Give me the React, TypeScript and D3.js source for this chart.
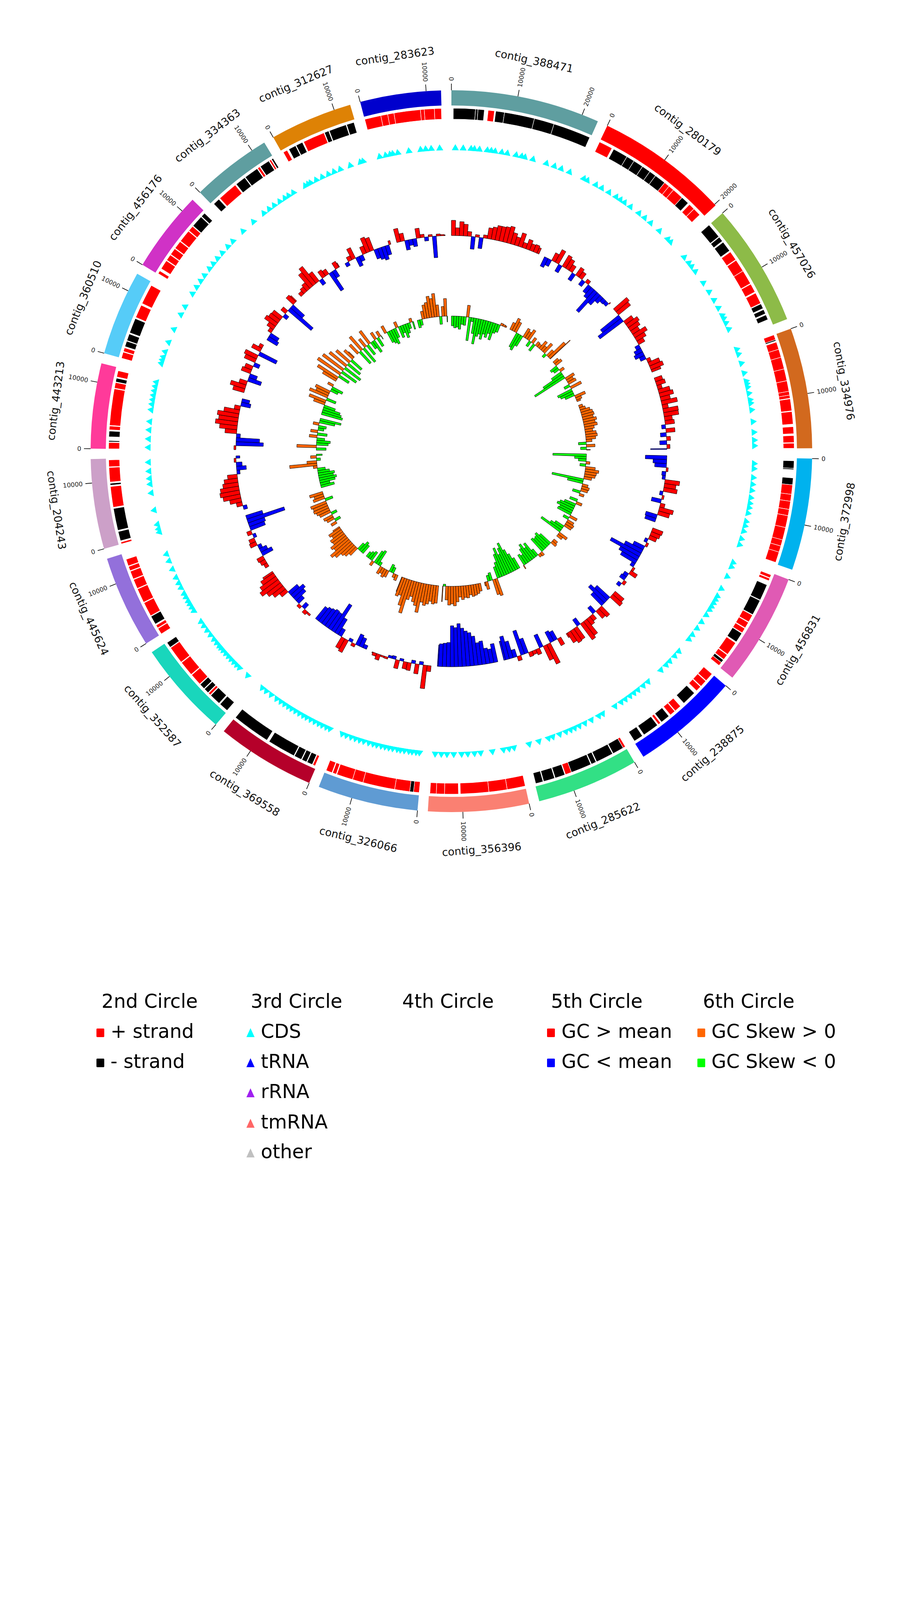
import React from "react";
import * as d3 from "d3";

// ---------------- DATA ----------------
const contigNames = [
  "contig_388471", "contig_280179", "contig_457026", "contig_334976", "contig_372998",
  "contig_456831", "contig_238875", "contig_285622", "contig_356396", "contig_326066",
  "contig_369558", "contig_352587", "contig_445624", "contig_204243", "contig_443213",
  "contig_360510", "contig_456176", "contig_334363", "contig_312627", "contig_283623",
];
const contigLengths = [
  22540, 20200, 18630, 18220, 16930, 16970, 16320, 15430, 15240, 15210,
  14960, 14480, 13980, 13590, 12890, 12890, 12290, 12190, 12510, 12230,
];
const contigColors = [
  "#5F9EA0", "#FF0000", "#8DBB48", "#D2691E", "#00B2EE", "#E05AB4", "#0000FF", "#32E085", "#FA8072", "#5F9BD3",
  "#B5002A", "#19D6BC", "#9370DB", "#CCA0C8", "#FF3A9A", "#56CCF8", "#D032C6", "#5F9EA0", "#DE8205", "#0000CD",
];
const tickValues = [0, 10000, 20000];
const binSize = 1000;

// 2nd circle: [start kb, end kb, strand]
const strandFeatures = [
  [[0.3,3.8,-1],[3.8,4.2,-1],[4.2,5.2,-1],[5.8,6.8,1],[7.0,8.4,-1],[8.4,13.2,-1],[13.2,16.4,-1],[16.4,22.4,-1]],
  [[0,2.2,1],[2.5,4.9,-1],[4.9,6.2,-1],[6.2,7.8,-1],[7.8,9.2,-1],[9.2,10.3,-1],[10.3,12.1,-1],[12.1,13.0,1],[13.0,13.9,1],[13.9,15.7,1],[15.7,17.0,-1],[17.3,18.3,1],[18.3,19.6,1]],
  [[0,2.4,-1],[2.5,3.3,-1],[3.5,5.2,-1],[5.4,6.9,1],[7.0,9.0,1],[9.0,11.3,1],[11.4,12.8,1],[13.0,14.8,1],[14.9,15.7,-1],[15.9,16.6,-1],[16.8,17.6,-1]],
  [[0,0.8,1],[0.8,1.0,-1],[1.2,2.4,1],[2.4,3.7,1],[3.7,5.6,1],[5.6,7.5,1],[7.5,9.2,1],[9.2,9.8,1],[9.8,10.3,1],[10.4,12.3,1],[12.4,14.4,1],[14.8,15.9,1],[16.2,17.3,1],[17.4,18.2,1]],
  [[0.4,1.6,-1],[1.6,1.8,-1],[3.1,4.2,-1],[4.2,5.7,1],[5.7,6.8,1],[6.8,8.1,1],[8.1,9.1,1],[9.1,11.0,1],[11.0,13.0,1],[13.0,14.0,1],[14.0,15.0,1],[15.0,16.7,1]],
  [[0.3,0.8,1],[0.9,1.3,1],[2.0,4.6,-1],[4.7,7.2,-1],[7.3,8.5,1],[8.6,9.6,1],[9.7,10.5,1],[10.6,12.2,-1],[12.4,14.6,1],[14.7,15.6,1],[15.7,16.2,-1],[16.2,16.8,1]],
  [[0,1.4,1],[1.5,2.6,1],[2.7,3.6,1],[4.1,6.4,-1],[7.1,8.2,1],[8.3,9.2,1],[9.5,11.0,-1],[11.2,11.6,1],[11.8,14.4,-1],[14.7,16.2,-1]],
  [[0,0.4,1],[0.4,2.2,-1],[2.3,5.1,-1],[5.2,6.0,-1],[6.1,9.4,-1],[9.4,10.4,1],[10.5,12.1,-1],[12.2,14.0,-1],[14.1,15.3,-1]],
  [[0,2.9,1],[2.9,5.8,1],[5.8,10.3,1],[10.6,12.8,1],[12.8,14.1,1],[14.1,15.1,1]],
  [[0,0.9,1],[0.9,1.5,-1],[1.5,3.9,1],[3.9,9.0,1],[9.0,10.7,1],[10.7,13.3,1],[13.4,14.0,1],[14.1,15.1,1]],
  [[0.2,0.6,1],[0.7,1.6,-1],[1.7,2.5,-1],[2.6,3.8,-1],[3.9,8.4,-1],[8.8,14.9,-1]],
  [[0.1,1.6,-1],[1.8,3.6,-1],[3.7,4.1,1],[4.2,5.0,-1],[5.1,6.0,-1],[6.1,8.0,1],[8.1,10.5,1],[10.6,13.4,1],[13.5,14.4,-1]],
  [[0,1.0,1],[1.1,1.6,1],[1.8,3.2,-1],[3.3,5.6,1],[5.7,8.0,1],[8.1,9.6,1],[9.7,11.0,1],[11.1,11.8,1],[11.9,13.0,1]],
  [[0,0.3,1],[0.5,2.0,-1],[2.2,5.7,-1],[5.9,9.2,1],[9.4,9.7,-1],[9.9,12.2,1],[12.3,13.4,1]],
  [[0,1.0,1],[1.1,1.3,-1],[1.9,2.8,-1],[3.0,3.6,1],[3.7,9.5,1],[9.6,10.5,1],[10.6,11.2,-1],[11.4,12.4,1]],
  [[0,1.0,1],[1.1,1.7,1],[1.9,2.8,-1],[2.9,4.0,-1],[4.2,6.6,-1],[6.8,8.9,1],[9.2,12.4,1]],
  [[0.1,0.6,1],[1.0,2.5,1],[2.6,3.6,1],[3.7,4.8,1],[4.9,6.2,1],[6.3,8.3,1],[8.4,9.3,1],[9.4,11.3,-1],[11.4,12.1,-1]],
  [[0.3,1.4,-1],[1.6,4.8,1],[5.0,6.7,-1],[6.8,9.1,-1],[9.2,9.6,1],[9.7,11.3,-1],[11.4,11.7,1],[11.8,12.1,-1]],
  [[0.2,0.9,1],[1.2,2.4,-1],[2.5,3.6,-1],[3.8,7.3,1],[7.4,8.1,-1],[8.2,11.0,-1],[11.1,12.3,-1]],
  [[0,2.6,1],[2.6,3.7,1],[3.7,4.7,1],[4.7,8.9,1],[8.9,9.5,1],[9.5,11.1,1],[11.1,12.2,1]],
];

// 3rd circle: CDS positions (kb)
const cdsPositions = [
  [0.7,2.1,3.5,4.1,5.0,6.4,7.1,7.8,9.0,10.0,11.6,12.6,13.2,14.7,17.2,18.7,20.0,21.6],
  [0.3,1.0,2.7,3.9,5.4,6.9,7.8,8.7,10.0,11.9,13.2,14.6,16.7,18.8,19.5],
  [1.4,2.7,3.5,4.6,7.1,9.0,10.7,12.3,13.8,14.4,15.3,16.5],
  [0.2,1.1,2.8,4.6,6.1,6.6,7.2,8.3,9.5,10.1,11.3,13.4,15.3,16.7,17.7],
  [1.1,2.0,3.6,4.8,5.9,7.2,8.2,9.0,10.0,11.5,12.3,13.3,14.7,15.8],
  [0.7,1.5,3.4,5.8,7.3,8.0,8.7,9.4,10.1,11.2,12.7,14.1,15.5,16.5],
  [0.8,1.9,3.2,4.1,5.4,8.5,9.6,10.8,11.7,12.6,13.6,14.5,15.8],
  [0.5,1.3,2.8,4.1,5.2,6.1,6.9,7.8,9.0,10.3,11.1,12.9,14.7],
  [0.5,1.4,2.4,4.4,6.5,7.6,8.8,9.9,11.3,12.5,13.5,14.6],
  [0.6,1.2,1.9,2.5,3.3,4.0,4.6,5.4,6.1,6.8,7.5,8.3,9.0,9.8,10.7,11.5,12.3,13.1,14.0,14.8],
  [0.4,1.1,1.9,2.6,3.4,4.2,5.0,5.7,6.5,7.3,8.1,8.8,9.6,10.4,11.3,12.5,13.6,14.5],
  [1.4,3.4,4.1,4.8,5.5,6.2,6.9,7.6,8.2,8.7,9.4,10.2,11.2,12.2,13.2,14.1],
  [0.4,1.1,1.8,2.4,3.2,3.9,5.1,6.0,7.1,8.7,10.3,11.6],
  [0.2,0.8,1.6,4.2,7.3,8.9,9.9,11.2,12.8],
  [0.3,1.8,3.4,4.9,7.0,8.0,8.8,9.6,10.4,11.2,12.0],
  [1.0,1.6,2.2,3.2,5.0,7.5,10.4,12.0],
  [0.2,1.6,2.9,4.1,5.6,6.7,7.9,9.2,10.7,12.0],
  [0.7,3.2,5.6,6.8,7.9,9.1,10.2,11.0,12.0],
  [0.7,1.3,1.8,2.9,4.1,5.3,6.4,7.6,9.5,11.4,11.9],
  [0.9,2.0,2.8,3.3,4.2,6.2,8.3,9.2,10.2,11.7],
];

// 5th circle: GC content deviation from mean per 1 kb window (x0.1 %)
const gcDeviation = [
  [39,20,36,30,12,-32,6,-28,8,28,32,38,38,40,44,30,22,36,14,26,18,20,16],
  [-26,-18,22,37,-20,33,28,18,-20,24,18,-15,10,-22,-30,-70,-35,-20,-12,-10,5],
  [45,40,-60,-75,25,35,30,22,38,28,18,-12,-20,-25,-15,10,30,35,25],
  [20,24,12,30,36,25,41,15,39,38,20,24,-10,23,-15,10,-18,8,-42],
  [-55,-35,-30,5,-10,-8,38,30,35,-8,5,-25,12,37,30,-30,-28],
  [28,25,20,-8,6,-30,-50,-86,-55,-45,-10,6,20,-12,-15,8,-10],
  [30,34,-45,-58,-40,30,25,-20,15,20,45,51,-20,35,37,30,12],
  [20,-25,-30,56,40,-35,15,10,12,-40,-65,12,-20,-45,-61,-50],
  [-48,-36,-40,-60,-57,-75,-85,-90,-98,-110,-100,-105,-62,-60,-58,-55],
  [15,60,-8,25,-8,20,18,-6,22,-8,-6,5,4,15,8,3],
  [-10,-25,-30,8,-8,35,30,-20,-45,-82,-50,-52,-48,-45,-40],
  [5,10,-15,8,-20,-35,-42,-30,20,35,45,58,50,40,30],
  [10,15,18,-30,-20,-10,18,15,-8,12,-40,-44,-100,-44],
  [-10,15,30,45,51,48,40,35,25,-8,-25,-15,5,-10],
  [5,-70,-60,-10,30,45,57,50,55,40,15,-25,-20],
  [30,40,20,-35,-20,25,20,-15,30,35,-50,25,10],
  [-30,-25,10,20,35,30,28,-12,15,-78,-40,25,20],
  [10,15,20,45,56,30,-15,20,15,-54,-20,18,12],
  [-10,12,30,-25,-15,20,40,35,-25,-30,-35,-25,10],
  [35,20,-25,-15,-20,25,8,-10,5,-55,5,3,2],
];

// 6th circle: GC skew per 1 kb window (x0.001)
const gcSkew = [
  [-25,-30,-28,-33,-20,-22,30,-60,-10,-40,-66,-45,-38,-50,-35,-42,-30,-45,-25,-20,6,5,4],
  [20,35,28,-40,-45,-30,25,20,30,-15,15,-20,12,10,25,15,30,-10,20,55,70],
  [15,20,-20,-15,12,-30,-60,-90,25,18,22,-15,30,-40,-35,-25,28,15,10],
  [10,15,25,30,32,28,35,30,34,25,20,28,30,25,15,-20,22,-15,10],
  [-86,-30,-20,10,-15,25,35,30,28,20,-82,-40,15,20,18,-20,12],
  [-20,15,-30,-40,-45,-35,-38,20,-15,18,22,20,-25,-35,-60,25,15],
  [12,15,-35,-45,-40,-38,-42,10,8,-20,-45,-35,-50,-40,-25,-30,10],
  [-30,-45,-60,-82,-70,-55,-75,-60,-40,-30,45,40,-20,-15,20,10],
  [20,25,28,30,25,32,30,35,28,40,50,45,48,35,-5,40],
  [45,48,42,50,55,48,76,60,52,40,50,88,70,45,50,40],
  [15,10,-15,-20,18,22,15,20,-10,-40,-35,12,-25,-20,-15],
  [-25,-30,-20,25,35,40,55,63,45,50,38,40,30,35,20],
  [15,-15,20,25,-15,30,35,40,38,42,-20,30,25,35],
  [-35,-25,-40,-45,-38,-42,-30,-20,10,70,25,-10,15,-15],
  [-25,50,-30,-35,-20,20,-25,18,-15,-20,15,-40,-55],
  [-55,-50,-45,-30,30,45,-25,50,35,40,-20,-30,15],
  [40,60,-30,70,-45,65,-50,55,-40,45,-35,30,20],
  [30,-40,45,-45,25,-30,40,-20,-35,20,-25,15,-10],
  [20,-30,-35,-40,-25,15,-30,-20,-35,-25,-15,10,-20],
  [-20,-15,20,35,40,55,48,60,30,-20,25,45,-15],
];

const legendHeaders = ["2nd Circle", "3rd Circle", "4th Circle", "5th Circle", "6th Circle"];
const strandLegend = [["+ strand", "#FF0000"], ["- strand", "#000000"]];
const featureLegend = [["CDS", "#00FFFF"], ["tRNA", "#0000FF"], ["rRNA", "#A020F0"], ["tmRNA", "#FF6666"], ["other", "#C0C0C0"]];
const gcLegend = [["GC > mean", "#FF0000"], ["GC < mean", "#0000FF"]];
const skewLegend = [["GC Skew > 0", "#FF6600"], ["GC Skew < 0", "#00FF00"]];

// ---------------- LAYOUT ----------------
const W = 2310;
const H = 4620;
const CX = 1156;
const CY = 1155;
const GAP_DEG = 1.65;
const FONT = "'DejaVu Sans', sans-serif";

const R_OUT1 = 924, R_IN1 = 885;
const R_OUT2 = 878, R_IN2 = 850;
const R_CDS = 778;
const R_TICK_END = 941;
const R_TICK_LABEL = 948;
const R_LABEL = 1022;

const toRad = (d: number) => (d * Math.PI) / 180;

export default function App() {
  const totalLen = d3.sum(contigLengths);
  const degPerBp = (360 - GAP_DEG * contigLengths.length) / totalLen;
  let acc = 0;
  const sectors = contigLengths.map((len) => {
    const start = acc;
    const end = acc + len * degPerBp;
    acc = end + GAP_DEG;
    const scale = d3.scaleLinear().domain([0, len]).range([toRad(start), toRad(end)]);
    return { start, end, len, scale };
  });

  const gcR = d3.scaleLinear().domain([-110, 110]).range([442, 662]);
  const skewR = d3.scaleLinear().domain([-100, 100]).range([246, 446]);
  const arc = d3.arc<any>();

  const mkArc = (r0: number, r1: number, a0: number, a1: number) =>
    arc({ innerRadius: Math.min(r0, r1), outerRadius: Math.max(r0, r1), startAngle: a0, endAngle: a1 }) || "";

  const polar = (r: number, a: number) => [r * Math.sin(a), -r * Math.cos(a)];

  const rows = [2657, 2734, 2811, 2889, 2965];
  const colX = [260, 642, 1030, 1411, 1800];

  return (
    <svg width={W} height={H} viewBox={`0 0 ${W} ${H}`} style={{ position: "absolute", left: 0, top: 0, background: "#fff" }}>
      <rect x={0} y={0} width={W} height={H} fill="#fff" />
      <g transform={`translate(${CX},${CY})`}>
        {sectors.map((s, i) => {
          const a0 = toRad(s.start);
          const a1 = toRad(s.end);
          const mid = (s.start + s.end) / 2;
          const [lx, ly] = polar(R_LABEL, toRad(mid));
          const labelRot = mid > 90 && mid < 270 ? mid - 180 : mid;
          const nBins = Math.ceil(s.len / binSize);
          return (
            <g key={contigNames[i]}>
              {/* 1st circle: contig band */}
              <path d={mkArc(R_IN1, R_OUT1, a0, a1)} fill={contigColors[i]} />
              {/* ticks */}
              {tickValues.filter((t) => t <= s.len).map((t) => {
                const a = s.scale(t);
                const deg = (a * 180) / Math.PI;
                const [x1, y1] = polar(R_OUT1, a);
                const [x2, y2] = polar(R_TICK_END, a);
                const [tx, ty] = polar(R_TICK_LABEL, a);
                const right = deg <= 180;
                const rot = right ? deg - 90 : deg + 90;
                return (
                  <g key={t}>
                    <line x1={x1} y1={y1} x2={x2} y2={y2} stroke="#000" strokeWidth={1.6} />
                    <text
                      x={tx}
                      y={ty}
                      transform={`rotate(${rot},${tx},${ty})`}
                      textAnchor={right ? "start" : "end"}
                      dominantBaseline="central"
                      fontFamily={FONT}
                      fontSize={16}
                      fill="#222"
                    >
                      {String(t)}
                    </text>
                  </g>
                );
              })}
              {/* contig label */}
              <text
                x={lx}
                y={ly}
                transform={`rotate(${labelRot},${lx},${ly})`}
                textAnchor="middle"
                dominantBaseline="central"
                fontFamily={FONT}
                fontSize={27.5}
                fill="#111"
              >
                {contigNames[i]}
              </text>
              {/* 2nd circle: strand features */}
              {strandFeatures[i].map((f, j) => (
                <path
                  key={"s" + j}
                  d={mkArc(R_IN2, R_OUT2, s.scale(Math.min(f[0] * 1000, s.len)), s.scale(Math.min(f[1] * 1000, s.len)))}
                  fill={f[2] > 0 ? "#FF0000" : "#000000"}
                  stroke="#fff"
                  strokeWidth={1.2}
                />
              ))}
              {/* 3rd circle: CDS markers */}
              {cdsPositions[i].map((p, j) => {
                const deg = (s.scale(Math.min(p * 1000, s.len)) * 180) / Math.PI;
                return (
                  <polygon
                    key={"c" + j}
                    points="0,-8 9,7.5 -9,7.5"
                    fill="#00FFFF"
                    transform={`rotate(${deg}) translate(0,${-R_CDS})`}
                  />
                );
              })}
              {/* 5th circle: GC content */}
              {gcDeviation[i].slice(0, nBins).map((v, j) => (
                <path
                  key={"g" + j}
                  d={mkArc(gcR(0), gcR(v), s.scale(j * binSize), s.scale(Math.min((j + 1) * binSize, s.len)))}
                  fill={v >= 0 ? "#FF0000" : "#0000FF"}
                  stroke="#000"
                  strokeWidth={1}
                />
              ))}
              {/* 6th circle: GC skew */}
              {gcSkew[i].slice(0, nBins).map((v, j) => (
                <path
                  key={"k" + j}
                  d={mkArc(skewR(0), skewR(v), s.scale(j * binSize), s.scale(Math.min((j + 1) * binSize, s.len)))}
                  fill={v >= 0 ? "#FF6600" : "#00FF00"}
                  stroke="#000"
                  strokeWidth={1}
                />
              ))}
            </g>
          );
        })}
      </g>

      {/* Legend */}
      <g fontFamily={FONT} fontSize={49} fill="#000">
        {legendHeaders.map((h, i) => (
          <text key={h} x={colX[i]} y={2580}>{h}</text>
        ))}
        {strandLegend.map(([label, color], i) => (
          <g key={label}>
            <rect x={247} y={rows[i] - 24} width={20} height={22} fill={color} rx={2} />
            <text x={283} y={rows[i]}>{label}</text>
          </g>
        ))}
        {featureLegend.map(([label, color], i) => (
          <g key={label}>
            <polygon points={`${641.5},${rows[i] - 25} ${652},${rows[i] - 2} ${631},${rows[i] - 2}`} fill={color} />
            <text x={668} y={rows[i]}>{label}</text>
          </g>
        ))}
        {gcLegend.map(([label, color], i) => (
          <g key={label}>
            <rect x={1401} y={rows[i] - 24} width={20} height={22} fill={color} rx={2} />
            <text x={1438} y={rows[i]}>{label}</text>
          </g>
        ))}
        {skewLegend.map(([label, color], i) => (
          <g key={label}>
            <rect x={1786} y={rows[i] - 24} width={20} height={22} fill={color} rx={2} />
            <text x={1822} y={rows[i]}>{label}</text>
          </g>
        ))}
      </g>
    </svg>
  );
}
